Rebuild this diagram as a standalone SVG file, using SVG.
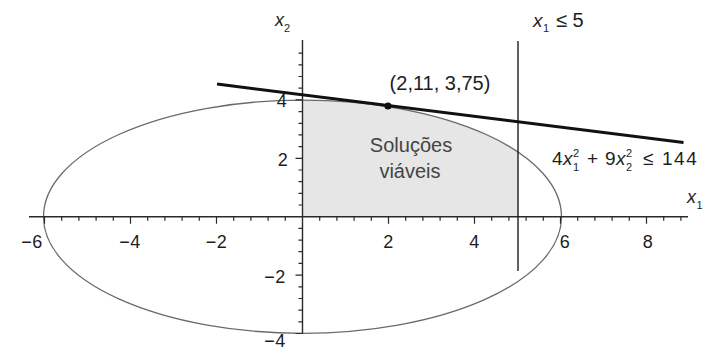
<svg xmlns="http://www.w3.org/2000/svg" width="704" height="351" viewBox="0 0 704 351">
<style>
text{font-family:"Liberation Sans",Arial,sans-serif;fill:#1e1e1e}
.num{font-size:18px;text-anchor:middle;letter-spacing:0.5px}
.it{font-style:italic}
.axis{stroke:#2a2a2a;stroke-width:1.4;fill:none}
.tick{stroke:#2a2a2a;stroke-width:1.2;fill:none}
.big{font-size:19px}
.sm{font-size:11px}
</style>
<rect width="704" height="351" fill="#fff"/>
<g id="feasible-region">
<path d="M302.5,216.7 L302.5,100.2 A259,116.5 0 0 1 518,150.4 L518,216.7 Z" fill="#e6e6e6"/>
</g>
<g id="ellipse">
<ellipse cx="302.5" cy="216.7" rx="259" ry="116.6" fill="none" stroke="#6a6a6a" stroke-width="1.3"/>
</g>
<g id="axes">
<path class="axis" d="M29,216.7 H688 M302.5,40 V333.5"/>
<path class="tick" d="M44.5,216.7v7 M61.7,216.7v4 M78.9,216.7v4 M96.1,216.7v4 M113.3,216.7v4 M130.5,216.7v7 M147.7,216.7v4 M164.9,216.7v4 M182.1,216.7v4 M199.3,216.7v4 M216.5,216.7v7 M233.7,216.7v4 M250.9,216.7v4 M268.1,216.7v4 M285.3,216.7v4 M319.7,216.7v4 M336.9,216.7v4 M354.1,216.7v4 M371.3,216.7v4 M388.5,216.7v7 M405.7,216.7v4 M422.9,216.7v4 M440.1,216.7v4 M457.3,216.7v4 M474.5,216.7v7 M491.7,216.7v4 M508.9,216.7v4 M526.1,216.7v4 M543.3,216.7v4 M560.5,216.7v7 M577.7,216.7v4 M594.9,216.7v4 M612.1,216.7v4 M629.3,216.7v4 M646.5,216.7v7 M663.7,216.7v4 M680.9,216.7v4"/>
<path class="tick" d="M302.5,333.5h-7 M302.5,321.8h-4 M302.5,310.1h-4 M302.5,298.5h-4 M302.5,286.8h-4 M302.5,275.1h-7 M302.5,263.4h-4 M302.5,251.7h-4 M302.5,240.1h-4 M302.5,228.4h-4 M302.5,205h-4 M302.5,193.3h-4 M302.5,181.7h-4 M302.5,170h-4 M302.5,158.3h-7 M302.5,146.6h-4 M302.5,134.9h-4 M302.5,123.3h-4 M302.5,111.6h-4 M302.5,99.9h-7 M302.5,88.2h-4 M302.5,76.5h-4 M302.5,64.9h-4 M302.5,53.2h-4"/>
<text class="num" x="32" y="248">−6</text>
<text class="num" x="130" y="248">−4</text>
<text class="num" x="216.5" y="248">−2</text>
<text class="num" x="388.5" y="248">2</text>
<text class="num" x="474.5" y="248">4</text>
<text class="num" x="565" y="248">6</text>
<text class="num" x="648" y="248">8</text>
<text class="num" x="282" y="107">4</text>
<text class="num" x="283" y="166">2</text>
<text class="num" x="275" y="283">−2</text>
<text class="num" x="275" y="347">−4</text>
<text class="it" x="687" y="203" font-size="18">x</text>
<text class="sm" x="696.5" y="209">1</text>
<text class="it" x="275" y="26" font-size="18">x</text>
<text class="sm" x="284" y="32">2</text>
</g>
<g id="constraint-x1-le-5">
<line x1="518" y1="41" x2="518" y2="271" stroke="#1e1e1e" stroke-width="1.4"/>
<text class="it" x="533" y="27" font-size="19">x</text>
<text class="sm" x="543" y="32">1</text>
<text x="556" y="27" font-size="20">≤ 5</text>
</g>
<g id="tangent-line">
<line x1="217" y1="84" x2="683.5" y2="142.6" stroke="#111" stroke-width="3"/>
</g>
<g id="optimum">
<circle cx="388" cy="106" r="3.6" fill="#111"/>
<text x="440" y="90" font-size="20" text-anchor="middle">(2,11, 3,75)</text>
</g>
<g id="ellipse-label">
<text class="big" x="552" y="165">4</text>
<text class="big it" x="563" y="165">x</text>
<text class="sm" x="573" y="157">2</text>
<text class="sm" x="573" y="171">1</text>
<text class="big" x="587" y="165">+</text>
<text class="big" x="605" y="165">9</text>
<text class="big it" x="616" y="165">x</text>
<text class="sm" x="626" y="157">2</text>
<text class="sm" x="626" y="171">2</text>
<text class="big" x="643" y="165">≤</text>
<text class="big" x="662" y="165" letter-spacing="1.5">144</text>
</g>
<g id="region-label">
<text x="411" y="152" font-size="20" text-anchor="middle" style="fill:#444">Soluções</text>
<text x="410" y="178" font-size="20" text-anchor="middle" style="fill:#444">viáveis</text>
</g>
</svg>
